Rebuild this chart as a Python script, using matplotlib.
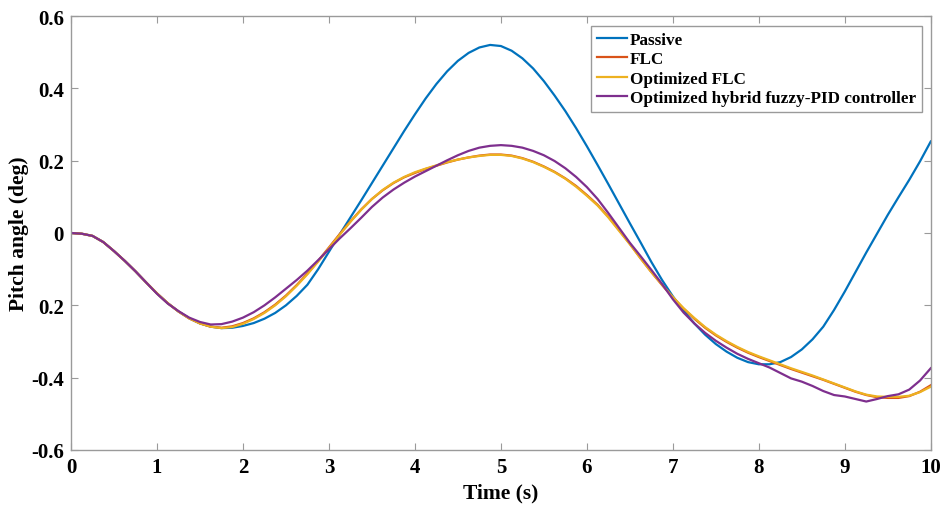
import matplotlib
matplotlib.use("Agg")
import matplotlib.pyplot as plt
import numpy as np

# Time axis (s), sampled every 0.125 s
time_s = np.linspace(0.0, 10.0, 81)

# Pitch angle responses (deg)
passive = [
    0.000, -0.002, -0.008, -0.025, -0.050, -0.077, -0.106, -0.137,
    -0.167, -0.194, -0.217, -0.236, -0.250, -0.259, -0.263, -0.262,
    -0.257, -0.249, -0.237, -0.221, -0.200, -0.174, -0.143, -0.100,
    -0.052, -0.004, 0.043, 0.090, 0.138, 0.186, 0.234, 0.282,
    0.328, 0.372, 0.412, 0.447, 0.476, 0.498, 0.513, 0.520,
    0.517, 0.504, 0.483, 0.455, 0.420, 0.380, 0.337, 0.290,
    0.240, 0.188, 0.135, 0.081, 0.027, -0.026, -0.080, -0.130,
    -0.175, -0.215, -0.250, -0.281, -0.307, -0.328, -0.345, -0.357,
    -0.363, -0.363, -0.357, -0.343, -0.322, -0.294, -0.259, -0.213,
    -0.162, -0.108, -0.054, -0.002, 0.050, 0.099, 0.147, 0.198,
    0.253]

flc = [
    0.000, -0.002, -0.008, -0.025, -0.050, -0.077, -0.106, -0.137,
    -0.167, -0.194, -0.217, -0.236, -0.250, -0.259, -0.262, -0.258,
    -0.249, -0.236, -0.219, -0.198, -0.173, -0.144, -0.112, -0.077,
    -0.040, -0.003, 0.032, 0.065, 0.094, 0.118, 0.138, 0.154,
    0.166, 0.177, 0.186, 0.195, 0.203, 0.209, 0.214, 0.217,
    0.217, 0.214, 0.207, 0.197, 0.184, 0.169, 0.151, 0.130,
    0.105, 0.078, 0.045, 0.008, -0.030, -0.070, -0.108, -0.144,
    -0.178, -0.209, -0.237, -0.262, -0.283, -0.301, -0.317, -0.331,
    -0.343, -0.354, -0.365, -0.376, -0.386, -0.396, -0.406, -0.417,
    -0.428, -0.439, -0.448, -0.454, -0.456, -0.456, -0.451, -0.439,
    -0.421]

optimized_flc = [
    0.000, -0.002, -0.008, -0.025, -0.050, -0.077, -0.106, -0.137,
    -0.167, -0.194, -0.217, -0.236, -0.250, -0.259, -0.263, -0.260,
    -0.251, -0.238, -0.221, -0.200, -0.175, -0.146, -0.114, -0.079,
    -0.042, -0.005, 0.031, 0.064, 0.094, 0.119, 0.139, 0.155,
    0.168, 0.178, 0.187, 0.196, 0.203, 0.209, 0.213, 0.216,
    0.216, 0.213, 0.206, 0.196, 0.183, 0.168, 0.150, 0.128,
    0.103, 0.076, 0.043, 0.006, -0.031, -0.070, -0.108, -0.143,
    -0.177, -0.208, -0.235, -0.260, -0.281, -0.299, -0.315, -0.329,
    -0.341, -0.352, -0.363, -0.374, -0.384, -0.394, -0.405, -0.416,
    -0.427, -0.438, -0.447, -0.452, -0.453, -0.453, -0.450, -0.440,
    -0.425]

hybrid_fuzzy_pid = [
    0.000, -0.002, -0.008, -0.025, -0.050, -0.077, -0.106, -0.137,
    -0.168, -0.195, -0.216, -0.234, -0.246, -0.253, -0.252, -0.245,
    -0.234, -0.219, -0.200, -0.178, -0.154, -0.130, -0.104, -0.075,
    -0.045, -0.015, 0.013, 0.042, 0.072, 0.098, 0.120, 0.139,
    0.156, 0.171, 0.186, 0.201, 0.215, 0.227, 0.236, 0.241,
    0.243, 0.241, 0.236, 0.227, 0.215, 0.199, 0.179, 0.155,
    0.127, 0.094, 0.055, 0.014, -0.027, -0.064, -0.102, -0.141,
    -0.183, -0.220, -0.250, -0.276, -0.298, -0.317, -0.334, -0.348,
    -0.360, -0.372, -0.387, -0.402, -0.411, -0.423, -0.437, -0.448,
    -0.452, -0.459, -0.466, -0.459, -0.451, -0.446, -0.433, -0.408,
    -0.374]

series_labels = ["Passive", "FLC", "Optimized FLC",
                 "Optimized hybrid fuzzy-PID controller"]

x_ticks = [0, 1, 2, 3, 4, 5, 6, 7, 8, 9, 10]
y_ticks = [-0.6, -0.4, -0.2, 0.0, 0.2, 0.4, 0.6]
y_tick_labels = ["-0.6", "-0.4", "0.2", "0", "0.2", "0.4", "0.6"]

colors = ["#0072BD", "#D95319", "#EDB120", "#7E2F8E"]

plt.rcParams["font.family"] = ["Liberation Serif", "DejaVu Serif"]
plt.rcParams["font.weight"] = "bold"

fig = plt.figure(figsize=(9.43, 5.06), dpi=100)
ax = fig.add_axes([0.0753, 0.1087, 0.9117, 0.8577])

for ys, c, lab in zip([passive, flc, optimized_flc, hybrid_fuzzy_pid], colors, series_labels):
    ax.plot(time_s, ys, color=c, lw=1.6, label=lab)

ax.set_xlim(0, 10)
ax.set_ylim(-0.6, 0.6)
ax.set_xticks(x_ticks)
ax.set_xticklabels([str(t) for t in x_ticks])
ax.set_yticks(y_ticks)
ax.set_yticklabels(y_tick_labels)

axis_gray = "#9a9a9a"
for sp in ax.spines.values():
    sp.set_color(axis_gray)
    sp.set_linewidth(1.0)
ax.tick_params(direction="in", length=5, width=0.8, color=axis_gray,
               top=True, right=True, labelsize=15, labelcolor="black", pad=5)
for lbl in ax.get_xticklabels() + ax.get_yticklabels():
    lbl.set_fontweight("bold")

ax.set_xlabel("Time (s)", fontsize=15.5, fontweight="bold", labelpad=4)
ax.set_ylabel("Pitch angle (deg)", fontsize=15.5, fontweight="bold")
ax.yaxis.set_label_coords(-0.049, 0.5)

leg = ax.legend(loc="upper right", bbox_to_anchor=(0.990, 0.977), borderaxespad=0,
                handlelength=1.8, handletextpad=0.15,
                labelspacing=0.2, borderpad=0.35, fancybox=False,
                framealpha=1.0, edgecolor=axis_gray,
                prop={"weight": "bold", "size": 12.3})
leg.get_frame().set_linewidth(1.0)

fig.savefig("out.png", dpi=100)
